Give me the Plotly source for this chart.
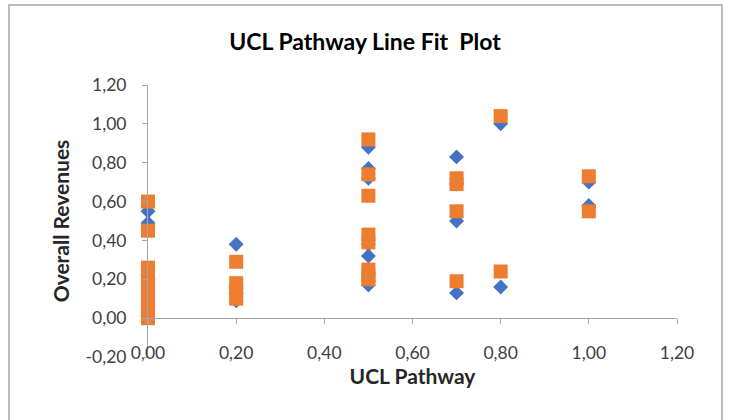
import plotly.graph_objects as go

# Data
x_actual = [0, 0, 0, 0, 0, 0, 0, 0,
            0.2, 0.2, 0.2, 0.2,
            0.5, 0.5, 0.5, 0.5, 0.5, 0.5, 0.5,
            0.7, 0.7, 0.7, 0.7,
            0.8, 0.8,
            1.0, 1.0]
y_actual = [0.55, 0.49, 0.20, 0.16, 0.12, 0.08, 0.04, 0.01,
            0.38, 0.16, 0.13, 0.09,
            0.88, 0.77, 0.72, 0.38, 0.32, 0.19, 0.17,
            0.83, 0.69, 0.50, 0.13,
            1.00, 0.16,
            0.70, 0.58]

x_pred = [0, 0, 0, 0, 0, 0, 0, 0, 0, 0,
          0.2, 0.2, 0.2, 0.2,
          0.5, 0.5, 0.5, 0.5, 0.5, 0.5, 0.5, 0.5,
          0.7, 0.7, 0.7, 0.7,
          0.8, 0.8,
          1.0, 1.0]
y_pred = [0.60, 0.45, 0.26, 0.22, 0.18, 0.14, 0.10, 0.06, 0.02, 0.00,
          0.29, 0.18, 0.14, 0.10,
          0.92, 0.74, 0.63, 0.43, 0.39, 0.25, 0.22, 0.20,
          0.72, 0.69, 0.55, 0.19,
          1.04, 0.24,
          0.73, 0.55]

x_tickvals = [0, 0.2, 0.4, 0.6, 0.8, 1.0, 1.2]
x_ticktext = ["0,00", "0,20", "0,40", "0,60", "0,80", "1,00", "1,20"]
y_tickvals = [-0.2, 0, 0.2, 0.4, 0.6, 0.8, 1.0, 1.2]
y_ticktext = ["-0,20", "0,00", "0,20", "0,40", "0,60", "0,80", "1,00", "1,20"]

title_text = "UCL Pathway Line Fit  Plot"
x_title = "UCL Pathway"
y_title = "Overall Revenues"

BLUE = "#4472C4"
ORANGE = "#ED7D31"
AXIS = "#a6a6a6"
TICKFONT = dict(family="Lato", size=17.5, color="#404040")
FONT = "Lato"

fig = go.Figure()
fig.add_trace(go.Scatter(x=x_actual, y=y_actual, mode="markers", name="Overall Revenues",
                         marker=dict(symbol="diamond", size=11.5, color=BLUE, line=dict(width=0)),
                         cliponaxis=False, showlegend=False))
fig.add_trace(go.Scatter(x=x_pred, y=y_pred, mode="markers", name="Predicted Overall Revenues",
                         marker=dict(symbol="square", size=14, color=ORANGE, line=dict(width=0)),
                         cliponaxis=False, showlegend=False))
# empty trace to host the axis line drawn at y = 0
fig.add_trace(go.Scatter(x=[], y=[], xaxis="x2", yaxis="y", showlegend=False, hoverinfo="skip"))

fig.update_layout(
    width=730, height=420,
    margin=dict(l=148, r=53, t=85, b=63),
    paper_bgcolor="white", plot_bgcolor="white",
    title=dict(text=title_text, x=0.5, xref="container", xanchor="center",
               y=1 - 42 / 420, yref="container", yanchor="middle",
               font=dict(family=FONT, size=23, color="#000000", weight="bold")),
    xaxis=dict(range=[0, 1.2], tickvals=x_tickvals, ticktext=x_ticktext,
               anchor="free", position=0.06, showline=False, ticks="",
               showgrid=False, zeroline=False, tickfont=TICKFONT,
               title=dict(text=x_title, standoff=6,
                          font=dict(family=FONT, size=21, color="#262626", weight="bold"))),
    xaxis2=dict(range=[0, 1.2], overlaying="x", matches="x", anchor="free",
                position=0.2 / 1.4, showline=True, linecolor=AXIS, linewidth=1,
                ticks="outside", ticklen=5, tickcolor=AXIS, tickwidth=1,
                tickvals=x_tickvals, showticklabels=False, showgrid=False, zeroline=False),
    yaxis=dict(range=[-0.2, 1.2], tickvals=y_tickvals, ticktext=y_ticktext,
               showline=True, linecolor=AXIS, linewidth=1,
               ticks="outside", ticklen=5, tickcolor=AXIS, tickwidth=1,
               ticklabelstandoff=12,
               showgrid=False, zeroline=False, tickfont=TICKFONT,
               title=dict(text=y_title, standoff=10,
                          font=dict(family=FONT, size=21, color="#262626", weight="bold"))),
    shapes=[dict(type="rect", xref="paper", yref="paper",
                 x0=(9 - 148) / 529, x1=(722 - 148) / 529,
                 y0=(357 - 425) / 272, y1=(357 - 5) / 272,
                 line=dict(color="#a6a6a6", width=1.5), fillcolor="rgba(0,0,0,0)", layer="below")],
)

fig.write_html("out.html")
